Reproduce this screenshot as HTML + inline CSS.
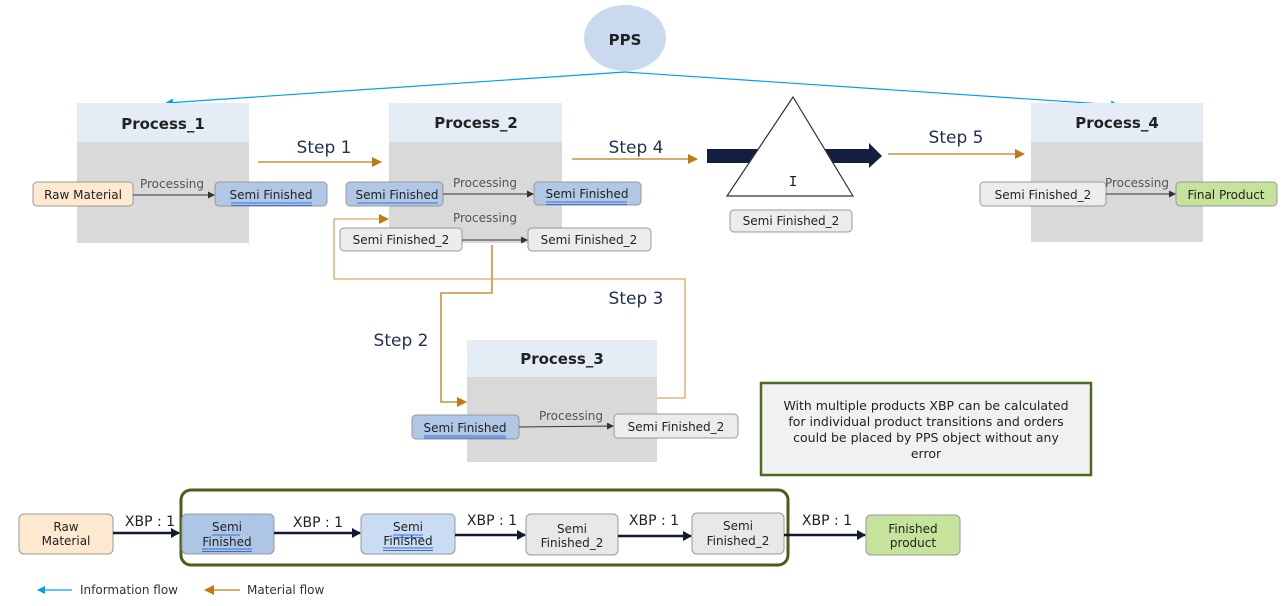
<!DOCTYPE html>
<html><head><meta charset="utf-8"><style>
html,body{margin:0;padding:0;background:#fff;}
svg{display:block;font-family:"DejaVu Sans","Liberation Sans",sans-serif;}
</style></head><body>
<svg width="1282" height="606" viewBox="0 0 1282 606" xmlns="http://www.w3.org/2000/svg">
<defs>
<marker id="ab" markerWidth="8" markerHeight="8" refX="7" refY="4" orient="auto" markerUnits="userSpaceOnUse"><path d="M0,0 L8,4 L0,8z" fill="#00a2e8"/></marker>
<marker id="ao" markerWidth="10" markerHeight="10" refX="9" refY="5" orient="auto" markerUnits="userSpaceOnUse"><path d="M0,0 L10,5 L0,10z" fill="#c07a12"/></marker>
<marker id="ak" markerWidth="7" markerHeight="7" refX="6" refY="3.5" orient="auto" markerUnits="userSpaceOnUse"><path d="M0,0 L7,3.5 L0,7z" fill="#333"/></marker>
<marker id="an" markerWidth="9" markerHeight="10" refX="8" refY="5" orient="auto" markerUnits="userSpaceOnUse"><path d="M0,0 L9,5 L0,10z" fill="#111a30"/></marker>
</defs>

<!-- PPS -->
<ellipse cx="625" cy="38" rx="41" ry="33" fill="#c9daef"/>
<text x="625" y="45" font-size="15" font-weight="bold" text-anchor="middle" fill="#222">PPS</text>
<line x1="625" y1="72" x2="166" y2="103" stroke="#00a2e8" stroke-width="1.2" marker-end="url(#ab)"/>
<line x1="625" y1="72" x2="1118" y2="105" stroke="#00a2e8" stroke-width="1.2" marker-end="url(#ab)"/>

<!-- Process boxes -->
<g font-size="15" font-weight="bold" text-anchor="middle" fill="#222">
<rect x="77" y="103" width="172" height="39" fill="#e4ecf6"/><rect x="77" y="142" width="172" height="101" fill="#d9d9d9"/>
<text x="163" y="129">Process_1</text>
<rect x="389" y="103" width="173" height="39" fill="#e4ecf6"/><rect x="389" y="142" width="173" height="101" fill="#d9d9d9"/>
<text x="476" y="128">Process_2</text>
<rect x="1031" y="103" width="172" height="39" fill="#e4ecf6"/><rect x="1031" y="142" width="172" height="100" fill="#d9d9d9"/>
<text x="1117" y="128">Process_4</text>
<rect x="467" y="340" width="190" height="37" fill="#e4ecf6"/><rect x="467" y="377" width="190" height="85" fill="#d9d9d9"/>
<text x="562" y="364">Process_3</text>
</g>

<!-- orange paths -->
<g fill="none" stroke="#c07a12" stroke-width="1.3">
<line x1="258" y1="162" x2="381" y2="162" marker-end="url(#ao)"/>
<line x1="572" y1="159" x2="697" y2="159" marker-end="url(#ao)"/>
<line x1="888" y1="154" x2="1024" y2="154" marker-end="url(#ao)"/>
<polyline points="492,245 492,293 441,293 441,402 466,402" marker-end="url(#ao)"/>
<polyline points="657,398 685,398 685,279 334,279 334,219 388,219" marker-end="url(#ao)" stroke="#d9a860"/>
</g>
<g font-size="17" fill="#1f3050" text-anchor="middle">
<text x="324" y="153">Step 1</text>
<text x="636" y="153">Step 4</text>
<text x="956" y="143">Step 5</text>
<text x="636" y="304">Step 3</text>
<text x="401" y="346">Step 2</text>
</g>

<!-- navy big arrow -->
<path d="M707,149 L869,149 L869,143 L882,156 L869,168 L869,163 L707,163z" fill="#121f3e"/>
<polygon points="793,97 853,196 727,196" fill="#fff" stroke="#333" stroke-width="1.2"/>
<text x="793" y="186" font-size="15" text-anchor="middle" fill="#222" font-family="Liberation Mono,monospace">I</text>

<!-- small boxes -->
<g stroke="#999" stroke-width="1">
<rect x="33" y="182" width="100" height="24" rx="4" fill="#fde9cf"/>
<rect x="215" y="182" width="112" height="24" rx="4" fill="#b0c8e6"/>
<rect x="346" y="182" width="97" height="24" rx="4" fill="#b0c8e6"/>
<rect x="534" y="182" width="107" height="23" rx="4" fill="#b0c8e6"/>
<rect x="340" y="228" width="122" height="23" rx="4" fill="#ececec"/>
<rect x="528" y="228" width="123" height="23" rx="4" fill="#ececec"/>
<rect x="730" y="210" width="122" height="22" rx="4" fill="#ececec"/>
<rect x="980" y="182" width="126" height="24" rx="4" fill="#ececec"/>
<rect x="1176" y="182" width="101" height="24" rx="4" fill="#c5e39a"/>
<rect x="412" y="415" width="107" height="24" rx="4" fill="#b0c8e6"/>
<rect x="614" y="414" width="124" height="24" rx="4" fill="#ececec"/>
</g>
<g stroke="#333" stroke-width="1">
<line x1="133" y1="195" x2="214" y2="195" marker-end="url(#ak)"/>
<line x1="443" y1="194" x2="533" y2="194" marker-end="url(#ak)"/>
<line x1="462" y1="240" x2="527" y2="240" marker-end="url(#ak)"/>
<line x1="1106" y1="194" x2="1175" y2="194" marker-end="url(#ak)"/>
<line x1="519" y1="427" x2="613" y2="426" marker-end="url(#ak)"/>
</g>
<g font-size="12" text-anchor="middle" fill="#222">
<text x="83" y="199">Raw Material</text>
<text x="271" y="199">Semi Finished</text>
<text x="397" y="199">Semi Finished</text>
<text x="587" y="198">Semi Finished</text>
<text x="401" y="244">Semi Finished_2</text>
<text x="589" y="244">Semi Finished_2</text>
<text x="791" y="225">Semi Finished_2</text>
<text x="1043" y="199">Semi Finished_2</text>
<text x="1226" y="199">Final Product</text>
<text x="465" y="432">Semi Finished</text>
<text x="676" y="431">Semi Finished_2</text>
</g>
<g font-size="12" text-anchor="middle" fill="#555">
<text x="172" y="188">Processing</text>
<text x="485" y="187">Processing</text>
<text x="485" y="222">Processing</text>
<text x="1137" y="187">Processing</text>
<text x="571" y="420">Processing</text>
</g>
<g stroke="#3a6fd8" stroke-width="1">
<line x1="231" y1="203" x2="312" y2="203"/><line x1="231" y1="205.5" x2="312" y2="205.5"/>
<line x1="357" y1="203" x2="438" y2="203"/>
<line x1="546" y1="202" x2="627" y2="202"/><line x1="546" y1="204.5" x2="627" y2="204.5"/>
<line x1="424" y1="436" x2="506" y2="436"/><line x1="424" y1="438" x2="506" y2="438"/>
</g>

<!-- note -->
<rect x="761" y="383" width="330" height="92" fill="#f1f1f1" stroke="#4d6b1d" stroke-width="2.5"/>
<g font-size="12.5" text-anchor="middle" fill="#222">
<text x="926" y="410">With multiple products XBP can be calculated</text>
<text x="926" y="426">for individual product transitions and orders</text>
<text x="926" y="442">could be placed by PPS object without any</text>
<text x="926" y="458">error</text>
</g>

<!-- bottom flow -->
<rect x="181" y="490" width="607" height="75" rx="10" fill="none" stroke="#4a5e18" stroke-width="3"/>
<g stroke="#999" stroke-width="1">
<rect x="19" y="514" width="94" height="40" rx="5" fill="#fde9cf"/>
<rect x="182" y="514" width="92" height="40" rx="5" fill="#adc6e5"/>
<rect x="361" y="514" width="94" height="40" rx="5" fill="#c9dcf2"/>
<rect x="526" y="514" width="92" height="41" rx="5" fill="#e8e8e8"/>
<rect x="692" y="513" width="92" height="41" rx="5" fill="#e8e8e8"/>
<rect x="866" y="515" width="94" height="40" rx="5" fill="#c5e39a"/>
</g>
<g stroke="#111a30" stroke-width="2.5">
<line x1="113" y1="533" x2="179" y2="533" marker-end="url(#an)"/>
<line x1="274" y1="533" x2="360" y2="533" marker-end="url(#an)"/>
<line x1="455" y1="535" x2="525" y2="535" marker-end="url(#an)"/>
<line x1="618" y1="536" x2="691" y2="536" marker-end="url(#an)"/>
<line x1="784" y1="535" x2="865" y2="535" marker-end="url(#an)"/>
</g>
<g font-size="14" text-anchor="middle" fill="#222">
<text x="150" y="526">XBP : 1</text>
<text x="318" y="527">XBP : 1</text>
<text x="492" y="525">XBP : 1</text>
<text x="654" y="525">XBP : 1</text>
<text x="827" y="525">XBP : 1</text>
</g>
<g font-size="12" text-anchor="middle" fill="#222">
<text x="66" y="531">Raw</text><text x="66" y="545">Material</text>
<text x="227" y="531">Semi</text><text x="227" y="546">Finished</text>
<text x="408" y="531">Semi</text><text x="408" y="545">Finished</text>
<text x="572" y="533">Semi</text><text x="572" y="547">Finished_2</text>
<text x="738" y="530">Semi</text><text x="738" y="545">Finished_2</text>
<text x="913" y="533">Finished</text><text x="913" y="547">product</text>
</g>
<g stroke="#3a6fd8" stroke-width="1">
<line x1="212" y1="535" x2="240" y2="535"/>
<line x1="202" y1="549" x2="252" y2="549"/><line x1="202" y1="551.5" x2="252" y2="551.5"/>
<line x1="393" y1="535" x2="423" y2="535"/><line x1="393" y1="537.5" x2="423" y2="537.5"/>
<line x1="383" y1="548" x2="433" y2="548"/><line x1="383" y1="550.5" x2="433" y2="550.5"/>
</g>

<!-- legend -->
<line x1="72" y1="590" x2="38" y2="590" stroke="#00a2e8" stroke-width="1.2" marker-end="url(#ab)"/>
<text x="80" y="594" font-size="12" fill="#333">Information flow</text>
<line x1="240" y1="590" x2="205" y2="590" stroke="#c07a12" stroke-width="1.2" marker-end="url(#ao)"/>
<text x="247" y="594" font-size="12" fill="#333">Material flow</text>
</svg>
</body></html>
